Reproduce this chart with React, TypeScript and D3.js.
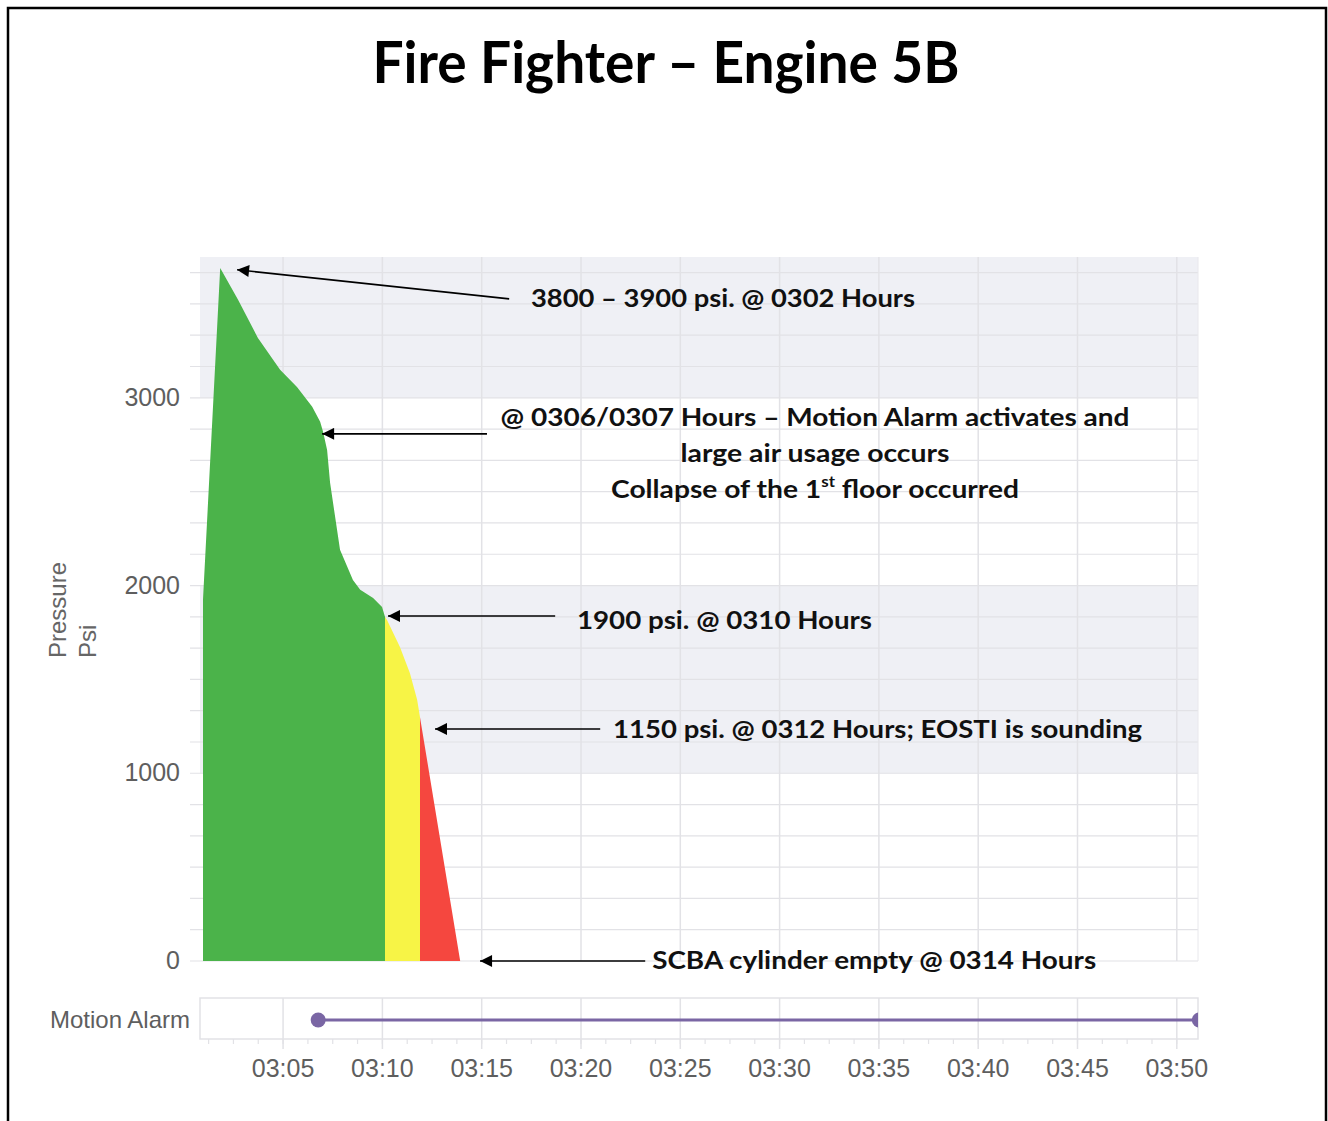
import React, { useEffect } from 'react';
import * as d3 from 'd3';

const W = 1328;
const H = 1121;

// SCBA cylinder pressure readings (clock time, psi)
const readingTimes = [
  '03:00:58', '03:01:50', '03:02:44', '03:03:44', '03:04:51', '03:05:42', '03:06:28',
  '03:06:52', '03:07:01', '03:07:13', '03:07:22', '03:07:52', '03:08:31', '03:08:53',
  '03:09:32', '03:09:59', '03:10:08', '03:10:14', '03:10:53', '03:11:23', '03:11:45',
  '03:11:54', '03:13:55',
];
const readingPsi = [
  1923, 3692, 3522, 3319, 3149, 3058, 2952,
  2872, 2818, 2722, 2547, 2190, 2030, 1977,
  1934, 1886, 1833, 1817, 1673, 1534, 1391,
  1295, 0,
];

// fill colour zones along the trace
const zoneStarts = ['03:00:00', '03:10:08', '03:11:54'];
const zoneEnds = ['03:10:08', '03:11:54', '03:20:00'];
const zoneColors = ['#4bb34a', '#f7f446', '#f5473f'];

const yTicks = [0, 1000, 2000, 3000];
const xTickLabels = ['03:05', '03:10', '03:15', '03:20', '03:25', '03:30', '03:35', '03:40', '03:45', '03:50'];
const shadedBands = [[1000, 2000], [3000, 3750]];

const motionAlarmStart = '03:06:46';
const motionAlarmEnd = '03:51:08';

// callouts: arrow tip, arrow tail, text anchor (time, psi)
const noteLines = [
  ['3800 – 3900 psi. @ 0302 Hours'],
  ['@ 0306/0307 Hours – Motion Alarm activates and', 'large air usage occurs', 'Collapse of the 1|st| floor occurred'],
  ['1900 psi. @ 0310 Hours'],
  ['1150 psi. @ 0312 Hours; EOSTI is sounding'],
  ['SCBA cylinder empty @ 0314 Hours'],
];
const noteTip = [['03:02:41', 3682], ['03:06:58', 2808], ['03:10:17', 1838], ['03:12:39', 1236], ['03:14:55', 0]];
const noteTail = [['03:16:23', 3527], ['03:15:16', 2808], ['03:18:42', 1838], ['03:20:58', 1236], ['03:23:14', 0]];
const noteText = [['03:17:29', 3485], ['03:31:47', 2851], ['03:19:48', 1769], ['03:21:37', 1188], ['03:23:35', -43]];
const noteWidths = [[384], [629, 269, 408], [295], [529], [444]];

const parse = d3.timeParse('%H:%M:%S');
const parseHM = d3.timeParse('%H:%M');

const App = () => {
  useEffect(() => {
    document.body.style.margin = '0';
  }, []);

  const x = d3.scaleTime()
    .domain([parse('03:00:49'), parse('03:51:04')])
    .range([200, 1198]);
  const y = d3.scaleLinear().domain([0, 3750]).range([961, 257]);
  const [x0, x1] = x.range();
  const [yb, yt] = y.range();

  const points = readingTimes.map((t, i) => ({ t: parse(t), v: readingPsi[i] }));
  const area = d3.area<any>()
    .x(d => x(d.t))
    .y0(y(0))
    .y1(d => y(d.v));
  const pathD = area(points);

  const gridVals = d3.range(0, 3750, 1000 / 6);
  const xTicks = xTickLabels.map(s => parseHM(s));
  const minorTicks = d3.range(0, 60).map(i => new Date(parseHM('03:00').getTime() + i * 75000))
    .filter(d => x(d) >= x0 && x(d) <= x1);

  const alarmTop = 998;
  const alarmBottom = 1039;
  const alarmY = 1020;
  const purple = '#7a66a4';

  const font = "'Liberation Sans', Arial, sans-serif";
  const boldFont = "Lato, 'Open Sans', sans-serif";

  return (
    <svg width={W} height={H} style={{ display: 'block', background: '#fff' }}>
      <defs>
        {zoneStarts.map((s, i) => (
          <clipPath id={`zone${i}`} key={i}>
            <rect x={x(parse(s))} y={yt} width={x(parse(zoneEnds[i])) - x(parse(s))} height={yb - yt} />
          </clipPath>
        ))}
        <clipPath id="alarmClip">
          <rect x={x0} y={alarmTop} width={x1 - x0} height={alarmBottom - alarmTop} />
        </clipPath>
        <marker id="arrowHead" viewBox="0 0 10 10" refX="10" refY="5" markerWidth="16" markerHeight="12"
          markerUnits="userSpaceOnUse" orient="auto">
          <path d="M0,0 L10,5 L0,10 z" fill="#000" />
        </marker>
      </defs>

      <rect x={8} y={8} width={1318} height={1200} fill="none" stroke="#000" strokeWidth={2.5} />

      <text x={666} y={83} textAnchor="middle" fontFamily={boldFont} fontWeight={700} fontSize={57}
        textLength={587} lengthAdjust="spacingAndGlyphs" fill="#000">
        Fire Fighter – Engine 5B
      </text>

      {/* plot background */}
      <rect x={x0} y={yt} width={x1 - x0} height={yb - yt} fill="#fff" />
      {shadedBands.map(([a, b], i) => (
        <rect key={i} x={x0} y={y(b)} width={x1 - x0} height={y(a) - y(b)} fill="#eff0f5" />
      ))}
      {gridVals.map((v, i) => (
        <line key={i} x1={x0 - 10} x2={x1} y1={y(v)} y2={y(v)} stroke="#e2e2e6" strokeWidth={1.2} />
      ))}
      {xTicks.map((d, i) => (
        <line key={i} x1={x(d)} x2={x(d)} y1={yt} y2={yb} stroke="#e2e2e6" strokeWidth={1.5} />
      ))}
      <line x1={x1} x2={x1} y1={yt} y2={yb} stroke="#e8e8ec" strokeWidth={1} />

      {/* pressure area, coloured by zone */}
      {zoneColors.map((c, i) => (
        <path key={i} d={pathD} fill={c} clipPath={`url(#zone${i})`} />
      ))}

      {/* y axis */}
      {yTicks.map(v => (
        <text key={v} x={180} y={y(v) + 8} textAnchor="end" fontFamily={font} fontSize={25} fill="#5e5e5e">{v}</text>
      ))}
      <g fontFamily={font} fontSize={24} fill="#666">
        <text transform={`translate(66,658) rotate(-90)`}>Pressure</text>
        <text transform={`translate(96,658) rotate(-90)`}>Psi</text>
      </g>

      {/* motion alarm strip */}
      <rect x={x0} y={alarmTop} width={x1 - x0} height={alarmBottom - alarmTop} fill="#fff" stroke="#e2e2e6" strokeWidth={1.5} />
      {xTicks.map((d, i) => (
        <line key={i} x1={x(d)} x2={x(d)} y1={alarmTop} y2={alarmBottom + 10} stroke="#e2e2e6" strokeWidth={1.5} />
      ))}
      {minorTicks.map((d, i) => (
        <line key={i} x1={x(d)} x2={x(d)} y1={alarmBottom} y2={alarmBottom + 5} stroke="#e2e2e6" strokeWidth={1.2} />
      ))}
      <g clipPath="url(#alarmClip)">
        <line x1={x(parse(motionAlarmStart))} x2={x(parse(motionAlarmEnd))} y1={alarmY} y2={alarmY}
          stroke={purple} strokeWidth={3} />
        <circle cx={x(parse(motionAlarmStart))} cy={alarmY} r={7.5} fill={purple} />
        <circle cx={x(parse(motionAlarmEnd))} cy={alarmY} r={7.5} fill={purple} />
      </g>
      <text x={190} y={alarmY + 8} textAnchor="end" fontFamily={font} fontSize={24} fill="#5e5e5e">
        Motion Alarm
      </text>

      {/* x axis labels */}
      {xTicks.map((d, i) => (
        <text key={i} x={x(d)} y={1077} textAnchor="middle" fontFamily={font} fontSize={25} fill="#5e5e5e">
          {xTickLabels[i]}
        </text>
      ))}

      {/* callouts */}
      {noteLines.map((lines, i) => {
        const tip = noteTip[i];
        const tail = noteTail[i];
        const pos = noteText[i];
        const multi = lines.length > 1;
        const tx = x(parse(pos[0] as string));
        const ty = y(pos[1] as number);
        return (
          <g key={i}>
            <line x1={x(parse(tail[0] as string))} y1={y(tail[1] as number)}
              x2={x(parse(tip[0] as string))} y2={y(tip[1] as number)}
              stroke="#000" strokeWidth={1.6} markerEnd="url(#arrowHead)" />
            {lines.map((ln, j) => {
              const parts = ln.split('|');
              const w = noteWidths[i][j];
              return (
                <text key={j} x={tx} y={ty + j * 36} textAnchor={multi ? 'middle' : 'start'}
                  fontFamily={boldFont} fontWeight={700} fontSize={25} fill="#111"
                  textLength={w} lengthAdjust="spacingAndGlyphs">
                  {parts.length === 1 ? ln : (
                    <>
                      {parts[0]}
                      <tspan fontSize={15} dy={-11}>{parts[1]}</tspan>
                      <tspan fontSize={25} dy={11}>{parts[2]}</tspan>
                    </>
                  )}
                </text>
              );
            })}
          </g>
        );
      })}
    </svg>
  );
};

export default App;
